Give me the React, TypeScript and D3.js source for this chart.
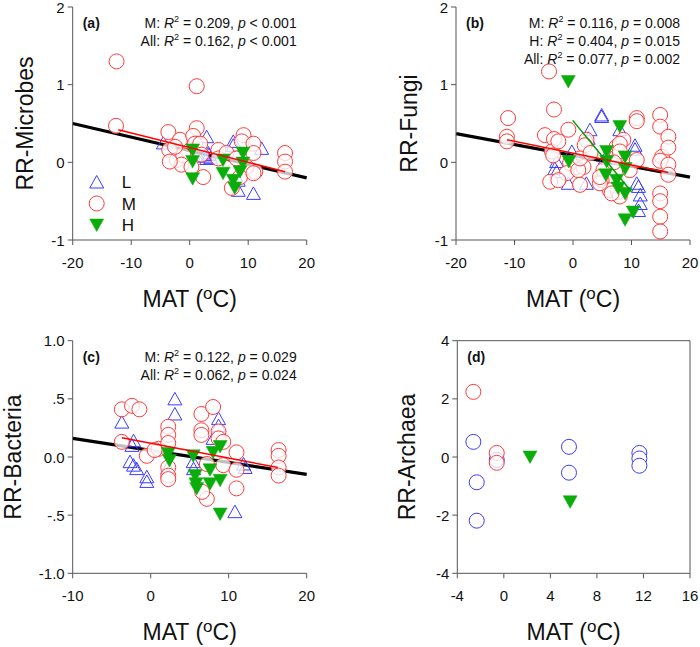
import React from "react";
import * as d3 from "d3";

// ---------- DATA ----------
// Panel (a) RR-Microbes
const aL_x = [2.9, 2.9, 3.3, 2.6, 3.6, 7.45, 7.45, 12.3, 10.9, 8.3, -4.5, 8.3, 3.2];
const aL_y = [0.33, 0.05, 0.10, 0.08, 0.06, 0.27, 0.22, 0.18, -0.40, -0.36, 0.25, -0.23, 0.12];
const aM_x = [-12.5, 1.2, -12.6, -3.65, -1.66, -3.5, -2.2, -1.1, 1.2, 0.6, 0.9, -1.4, 4.9, 4.9, 9.2, 8.9, 10.9, 10.9, 11.2, 9.7, 7.2, 8.6, 16.3, 16.3, 16.3, 6.3, 2.3, 0.3, -3.4, 1.8, 10.9, 2.0, -2.5, 8.0];
const aM_y = [1.30, 0.98, 0.47, 0.39, 0.29, 0.16, 0.03, 0.09, 0.44, 0.34, 0.24, -0.03, 0.16, 0.05, 0.35, 0.27, 0.24, 0.12, -0.12, -0.06, -0.33, -0.19, 0.12, 0.01, -0.12, 0.12, -0.19, -0.06, 0.01, 0.24, -0.14, 0.10, 0.20, 0.05];
const aH_x = [0.5, 0.5, 0.5, 5.7, 5.7, 7.45, 7.7, 9.1, 9.1, 8.6];
const aH_y = [0.16, 0.01, -0.21, 0.03, -0.14, -0.23, -0.33, 0.12, -0.01, -0.12];
const aAll_x = [-20, 20];
const aAll_y = [0.5, -0.2];
const aMfit_x = [-12.2, 16.3];
const aMfit_y = [0.42, -0.12];

// Panel (b) RR-Fungi
const bL_x = [4.9, 4.9, 2.9, 2.6, -0.2, -2.8, -3.1, -2.8, -0.8, 2.3, 8.0, 10.6, 10.6, 10.9, 11.2, 11.5, 11.5, 11.2, 5.5];
const bL_y = [0.61, 0.59, 0.42, 0.31, 0.14, 0.01, -0.08, -0.12, -0.27, -0.27, 0.42, 0.22, 0.17, -0.27, -0.31, -0.42, -0.53, -0.62, 0.05];
const bM_x = [-4.1, -3.25, -11.1, -11.3, -11.3, -4.8, -3.25, -3.6, -3.9, -0.8, 0.6, 1.2, 2.3, 2.0, -0.5, 1.8, -1.1, 4.9, 5.2, 7.45, 7.45, 6.3, 7.7, 8.0, 8.6, 9.7, 10.9, 10.9, 10.9, 14.9, 14.9, 15.2, 14.9, 16.3, 16.3, 16.3, 16.3, 14.9, 14.9, 14.9, 14.9, -2.5, -3.4, -2.5, 0.9, 4.6, 4.6, 6.6, 8.0, 8.0, 1.2, 3.0, 7.0];
const bM_y = [1.17, 0.68, 0.57, 0.33, 0.27, 0.35, 0.30, 0.14, -0.25, 0.42, -0.06, -0.29, 0.29, 0.22, -0.01, -0.06, -0.14, -0.23, -0.10, 0.20, 0.07, -0.36, -0.38, -0.44, 0.29, -0.10, 0.57, 0.53, 0.03, 0.61, 0.46, 0.07, 0.02, 0.33, 0.19, -0.03, -0.16, -0.40, -0.50, -0.70, -0.89, 0.27, 0.09, -0.23, -0.10, -0.27, -0.19, -0.40, 0.24, 0.14, 0.05, 0.12, 0.0];
const bH_x = [-0.8, -0.7, 8.0, 5.75, 5.75, 8.9, 8.9, 5.6, 7.45, 7.7, 8.9, 10.3, 8.9];
const bH_y = [1.04, 0.01, 0.46, 0.14, 0.01, 0.07, -0.08, -0.16, -0.23, -0.33, -0.40, -0.64, -0.74];
const bAll_x = [-20, 20];
const bAll_y = [0.37, -0.19];
const bMfit_x = [-11.3, 16.3];
const bMfit_y = [0.29, -0.13];
const bHfit_x = [-0.05, 10.0];
const bHfit_y = [0.54, -0.38];

// Panel (c) RR-Bacteria
const cL_x = [3.1, 3.1, -3.7, -2.2, -2.65, -2.2, -1.8, -0.5, -0.5, 5.45, 8.7, 8.7, 8.0, 11.9, 12.1, 10.8, 2.2, 5.5, -2.4];
const cL_y = [0.50, 0.37, 0.30, 0.14, -0.04, -0.07, -0.10, -0.17, -0.21, -0.04, 0.33, 0.27, 0.16, -0.06, -0.09, -0.47, -0.09, -0.10, 0.10];
const cM_x = [-3.7, -2.4, -1.45, -3.7, -0.5, 1.0, 2.25, 2.25, 2.25, 2.25, 2.25, 2.25, 6.5, 6.5, 8.0, 8.7, 8.7, 9.3, 9.3, 7.2, 7.2, 6.6, 11.0, 11.0, 11.0, 16.4, 16.4, 16.4, 16.4, 0.5, 6.5];
const cM_y = [0.41, 0.44, 0.41, 0.13, 0.01, 0.07, 0.26, 0.19, 0.12, -0.09, -0.16, -0.19, 0.37, 0.23, 0.43, 0.22, 0.16, 0.13, -0.07, -0.06, -0.36, -0.30, 0.04, -0.11, -0.27, 0.06, 0.01, -0.09, -0.16, 0.06, 0.19];
const cH_x = [2.25, 2.4, 5.45, 5.7, 5.8, 5.9, 7.6, 7.6, 8.0, 8.9, 8.9, 8.9];
const cH_y = [0.03, -0.03, 0.01, -0.16, -0.23, -0.27, -0.11, -0.23, 0.04, 0.09, -0.20, -0.49];
const cAll_x = [-10, 20];
const cAll_y = [0.16, -0.15];
const cMfit_x = [-3.7, 16.3];
const cMfit_y = [0.165, -0.09];

// Panel (d) RR-Archaea
const dBlue_x = [-2.62, -2.33, -2.33, -0.61, 5.6, 5.6, 11.65, 11.65, 11.65];
const dBlue_y = [0.52, -0.87, -2.19, -0.1, 0.35, -0.54, 0.14, -0.05, -0.3];
const dRed_x = [-2.62, -0.61, -0.61];
const dRed_y = [2.24, 0.14, -0.2];
const dH_x = [2.25, 5.7];
const dH_y = [0.0, -1.54];

// Ticks
const abXTicks = [-20, -10, 0, 10, 20];
const abYTicks = [-1, 0, 1, 2];
const cXTicks = [-10, 0, 10, 20];
const cYTicks = [-1, -0.5, 0, 0.5, 1];
const cYTickLabels = ["-1.0", "-.5", "0.0", ".5", "1.0"];
const dXTicks = [-4, 0, 4, 8, 12, 16];
const dYTicks = [-4, -2, 0, 2, 4];

const legendLabels = ["L", "M", "H"];

// ---------- STYLE ----------
const FONT = "'Liberation Sans', Arial, sans-serif";
const BLUE = "#3b3bff";
const RED = "#ff3b3b";
const GREEN = "#0aad0a";
const AXIS = "#555";

type Pt = [number, number];
const zip = (xs: number[], ys: number[]): Pt[] => xs.map((x, i) => [x, ys[i]]);

const upTri = (x: number, y: number) => `M${x - 7},${y + 6}L${x + 7},${y + 6}L${x},${y - 6.5}Z`;
const downTri = (x: number, y: number) => `M${x - 7},${y - 6}L${x + 7},${y - 6}L${x},${y + 6.5}Z`;

interface PanelProps {
  left: number; right: number; top: number; bottom: number;
  xDomain: [number, number]; yDomain: [number, number];
  xTicks: number[]; yTicks: number[]; yTickLabels?: string[];
  yTitle: string; yTitleOffset: number;
  box?: boolean;
  tag: string;
  stats: { g: string; r2: string; p: string; op: string }[];
  lTris?: Pt[]; mCircles?: Pt[]; hTris?: Pt[]; blueCircles?: Pt[];
  allLine?: Pt[]; mLine?: Pt[]; hLine?: Pt[];
  legend?: boolean;
}

function Panel(p: PanelProps) {
  const x = d3.scaleLinear().domain(p.xDomain).range([p.left, p.right]);
  const y = d3.scaleLinear().domain(p.yDomain).range([p.bottom, p.top]);
  const line = d3.line<Pt>().x((d) => x(d[0])).y((d) => y(d[1]));
  const cx = (p.left + p.right) / 2;
  const cy = (p.top + p.bottom) / 2;
  return (
    <g>
      {p.allLine && <path d={line(p.allLine) || ""} stroke="#000" strokeWidth={3.2} fill="none" />}
      {(p.lTris || []).map((d, i) => (
        <path key={"l" + i} d={upTri(x(d[0]), y(d[1]))} fill="none" stroke={BLUE} strokeWidth={1} />
      ))}
      {(p.blueCircles || []).map((d, i) => (
        <circle key={"bc" + i} cx={x(d[0])} cy={y(d[1])} r={7.5} fill="white" stroke={BLUE} strokeWidth={1} />
      ))}
      {(p.mCircles || []).map((d, i) => (
        <circle key={"m" + i} cx={x(d[0])} cy={y(d[1])} r={7.5} fill="white" fillOpacity={0.75} stroke={RED} strokeWidth={1} />
      ))}
      {(p.hTris || []).map((d, i) => (
        <path key={"h" + i} d={downTri(x(d[0]), y(d[1]))} fill={GREEN} stroke={GREEN} strokeWidth={0.5} />
      ))}
      {p.mLine && <path d={line(p.mLine) || ""} stroke="#ff0000" strokeWidth={1.5} fill="none" />}
      {p.hLine && <path d={line(p.hLine) || ""} stroke="#00a000" strokeWidth={1.5} fill="none" />}

      <line x1={p.left} x2={p.left} y1={p.top} y2={p.bottom} stroke={AXIS} strokeWidth={1} />
      <line x1={p.left} x2={p.right} y1={p.bottom} y2={p.bottom} stroke={AXIS} strokeWidth={1} />
      {p.box && (
        <>
          <line x1={p.right} x2={p.right} y1={p.top} y2={p.bottom} stroke={AXIS} strokeWidth={1} />
          <line x1={p.left} x2={p.right} y1={p.top} y2={p.top} stroke={AXIS} strokeWidth={1} />
        </>
      )}
      {p.xTicks.map((t) => (
        <g key={"xt" + t}>
          <line x1={x(t)} x2={x(t)} y1={p.bottom} y2={p.bottom + 5} stroke={AXIS} />
          <text x={x(t)} y={p.bottom + 28} textAnchor="middle" fontSize={15} fontFamily={FONT} fill="#111">{t}</text>
        </g>
      ))}
      {p.yTicks.map((t, i) => (
        <g key={"yt" + t}>
          <line x1={p.left - 5} x2={p.left} y1={y(t)} y2={y(t)} stroke={AXIS} />
          <text x={p.left - 8} y={y(t) + 5.5} textAnchor="end" fontSize={15} fontFamily={FONT} fill="#111">
            {p.yTickLabels ? p.yTickLabels[i] : t}
          </text>
        </g>
      ))}
      <text x={cx} y={p.bottom + 67} textAnchor="middle" fontSize={23} fontFamily={FONT} fill="#111">
        MAT (<tspan fontSize={17} dy={-8}>o</tspan><tspan dy={8}>C)</tspan>
      </text>
      <text
        transform={`translate(${p.left - p.yTitleOffset},${cy}) rotate(-90)`}
        textAnchor="middle" dominantBaseline="central" fontSize={23} fontFamily={FONT} fill="#111"
      >
        {p.yTitle}
      </text>
      <text x={p.left + 10} y={p.top + 21} fontSize={14} fontWeight="bold" fontFamily={FONT} fill="#111">{p.tag}</text>
      {p.stats.map((s, i) => (
        <text key={"s" + i} x={p.right - 10} y={p.top + 21 + i * 18} textAnchor="end" fontSize={14} fontFamily={FONT} fill="#111">
          {s.g}: <tspan fontStyle="italic">R</tspan><tspan fontSize={9} dy={-6}>2</tspan><tspan dy={6}> = {s.r2}, </tspan>
          <tspan fontStyle="italic">p</tspan> {s.op} {s.p}
        </text>
      ))}
      {p.legend && (
        <g fontFamily={FONT} fontSize={17} fill="#111">
          {legendLabels.map((lab, i) => {
            const ly = p.top + 175 + i * 21.5;
            const lx = p.left + 24;
            return (
              <g key={lab}>
                {i === 0 && <path d={upTri(lx, ly)} fill="none" stroke={BLUE} strokeWidth={1} />}
                {i === 1 && <circle cx={lx} cy={ly} r={7.5} fill="none" stroke={RED} strokeWidth={1} />}
                {i === 2 && <path d={downTri(lx, ly)} fill={GREEN} stroke={GREEN} strokeWidth={0.5} />}
                <text x={lx + 25} y={ly + 6}>{lab}</text>
              </g>
            );
          })}
        </g>
      )}
    </g>
  );
}

export default function App() {
  return (
    <svg width={700} height={647} style={{ position: "absolute", left: 0, top: 0, background: "white" }}>
      <rect width={700} height={647} fill="white" />
      <Panel
        left={72.7} right={306.7} top={7} bottom={240}
        xDomain={[-20, 20]} yDomain={[-1, 2]} xTicks={abXTicks} yTicks={abYTicks}
        yTitle="RR-Microbes" yTitleOffset={48} tag="(a)"
        stats={[{ g: "M", r2: "0.209", op: "<", p: "0.001" }, { g: "All", r2: "0.162", op: "<", p: "0.001" }]}
        lTris={zip(aL_x, aL_y)} mCircles={zip(aM_x, aM_y)} hTris={zip(aH_x, aH_y)}
        allLine={zip(aAll_x, aAll_y)} mLine={zip(aMfit_x, aMfit_y)} legend
      />
      <Panel
        left={456} right={690} top={7} bottom={240}
        xDomain={[-20, 20]} yDomain={[-1, 2]} xTicks={abXTicks} yTicks={abYTicks}
        yTitle="RR-Fungi" yTitleOffset={47.5} tag="(b)"
        stats={[{ g: "M", r2: "0.116", op: "=", p: "0.008" }, { g: "H", r2: "0.404", op: "=", p: "0.015" }, { g: "All", r2: "0.077", op: "=", p: "0.002" }]}
        lTris={zip(bL_x, bL_y)} mCircles={zip(bM_x, bM_y)} hTris={zip(bH_x, bH_y)}
        allLine={zip(bAll_x, bAll_y)} mLine={zip(bMfit_x, bMfit_y)} hLine={zip(bHfit_x, bHfit_y)}
      />
      <Panel
        left={72.7} right={306.7} top={340.7} bottom={573.3}
        xDomain={[-10, 20]} yDomain={[-1, 1]} xTicks={cXTicks} yTicks={cYTicks} yTickLabels={cYTickLabels}
        yTitle="RR-Bacteria" yTitleOffset={60} tag="(c)"
        stats={[{ g: "M", r2: "0.122", op: "=", p: "0.029" }, { g: "All", r2: "0.062", op: "=", p: "0.024" }]}
        lTris={zip(cL_x, cL_y)} mCircles={zip(cM_x, cM_y)} hTris={zip(cH_x, cH_y)}
        allLine={zip(cAll_x, cAll_y)} mLine={zip(cMfit_x, cMfit_y)}
      />
      <Panel
        left={457.3} right={690} top={340.7} bottom={573.3}
        xDomain={[-4, 16]} yDomain={[-4, 4]} xTicks={dXTicks} yTicks={dYTicks}
        yTitle="RR-Archaea" yTitleOffset={50} tag="(d)" box
        stats={[]}
        blueCircles={zip(dBlue_x, dBlue_y)} mCircles={zip(dRed_x, dRed_y)} hTris={zip(dH_x, dH_y)}
      />
    </svg>
  );
}
